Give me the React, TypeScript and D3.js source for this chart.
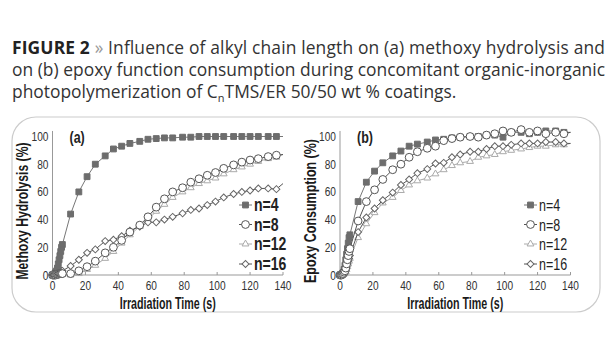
import React from "react"
import * as d3 from "d3"

// sampling times (s), shared by every series; lines run on to 140 s without a marker
const TIME = [0, 0.5, 1, 1.5, 2, 2.5, 3, 3.5, 4, 4.5, 5, 5.5, 6,
  11, 16, 21, 26, 32, 37, 42, 47, 53, 58, 63, 68, 73, 79, 84, 89, 94, 99, 104, 110, 115, 120, 125, 131, 136]
const LINE_END_TIME = 140
const SERIES_NAMES = ["n=4", "n=8", "n=12", "n=16"]
const X_TICKS = [0, 20, 40, 60, 80, 100, 120, 140]
const Y_TICKS = [0, 20, 40, 60, 80, 100]

// (a) methoxy hydrolysis (%)
const A_N4 = [0, 0, 0.5, 1, 2, 3, 5, 8, 11, 14, 17, 20, 22,
  44, 60, 71, 80, 86, 91, 93, 95, 96.5, 98, 98.5, 99, 99, 99.5, 99.5, 100, 100, 100, 100, 100, 100, 100, 100, 100, 100]
const A_N8 = [0, 0, 0, 0, 0, 0.5, 0.5, 0.5, 1, 1, 1, 1, 1,
  1, 3, 6, 10, 16, 20, 25, 31, 36, 42, 49, 55, 60, 63, 67, 69.5, 72, 74, 77, 79.5, 81.5, 83, 84, 85.5, 86.5]
const A_N12 = [0, 0, 0, 0, 0, 0, 0, 0, 0.5, 0.5, 0.5, 0.5, 0.5,
  0, 1, 4, 7, 12, 17, 23, 29, 35, 40, 46, 51, 56, 60, 63, 66, 68, 70, 73, 76, 78, 80, 82, 84, 85]
const A_N16 = [0, 0, 0, 0.5, 0.5, 1, 1, 1.5, 2, 2, 2.5, 3, 3,
  6.5, 11, 16, 18.5, 24.5, 25.5, 28, 32, 35, 38, 38, 40, 42, 44.5, 47, 48, 50.5, 53, 56, 58.5, 60, 61, 62.5, 62.5, 62]
const A_END = [100, 87, 87, 66]

// (b) epoxy consumption (%)
const B_N4 = [0, 0, 0.5, 1, 2, 4, 7, 11, 15, 19, 23, 27, 29,
  53, 67, 75, 81, 86, 89.5, 93, 94.5, 96, 97.5, 98, 99, 99.5, 100, 100, 101, 101, 99.5, 103, 103, 102, 103, 104, 104, 103]
const B_N8 = [0, 0, 0, 0.5, 1, 2, 3, 5, 8, 11, 14, 17, 19,
  39, 53, 61.5, 69, 76, 80, 85, 89, 91.5, 93, 97, 98.5, 99.5, 100, 99.5, 101, 102, 104, 103, 105, 103, 104, 102, 103, 102]
const B_N12 = [0, 0, 0, 0, 0.5, 1, 1.5, 2.5, 4, 6, 8, 10, 12,
  27, 37, 45, 52, 56, 61, 65, 68, 70, 73, 76, 79, 81, 82, 85, 86, 87, 89, 90, 91, 92, 93, 93, 94, 94]
const B_N16 = [0, 0, 0, 0.5, 1, 1.5, 2.5, 4, 6, 8, 10, 12, 14,
  31, 41.5, 48, 54, 59.5, 65, 69, 73.5, 76.5, 80.5, 81, 85, 87, 89, 89, 91, 93, 93, 94, 95, 95, 95, 96, 96, 95]
const B_END = [103, 103, 95, 95]

const STYLES = [
  { shape: "square", fill: "#6d6d6d", stroke: "#6d6d6d", line: "#777" },
  { shape: "circle", fill: "#fff", stroke: "#555", line: "#555" },
  { shape: "triangle", fill: "#fff", stroke: "#aaa", line: "#aaa" },
  { shape: "diamond", fill: "#fff", stroke: "#666", line: "#555" },
]
const DRAW_ORDER = [2, 3, 0, 1]

const AXIS_FONT = "'Liberation Sans', Arial, sans-serif"
const SQUEEZE = 0.78 // no condensed face installed, so narrow the glyphs by hand

function markerPath(shape: string) {
  if (shape === "square") return d3.symbol(d3.symbolSquare, 34)()
  if (shape === "circle") return d3.symbol(d3.symbolCircle, 48)()
  if (shape === "triangle") return d3.symbol(d3.symbolTriangle, 20)()
  return d3.symbol(d3.symbolSquare, 24)()
}

function Marker({ shape, x, y, fill, stroke }: any) {
  const rot = shape === "diamond" ? " rotate(45)" : ""
  return (
    <path d={markerPath(shape) || ""} transform={`translate(${x},${y})${rot}`}
      fill={fill} stroke={stroke} strokeWidth={1} />
  )
}

// condensed-looking text
function CText({ x, y, rotate = 0, children, ...rest }: any) {
  return (
    <text transform={`translate(${x},${y}) rotate(${rotate}) scale(${SQUEEZE},1)`}
      fontFamily={AXIS_FONT} fill="#222" {...rest}>{children}</text>
  )
}

// axis titles squeezed to the measured width
function TitleText({ x, y, rotate = 0, width, children }: any) {
  return (
    <text transform={`translate(${x},${y}) rotate(${rotate})`} textAnchor="middle" fontSize={17}
      fontWeight="bold" fontFamily={AXIS_FONT} fill="#1a1a1a"
      textLength={width} lengthAdjust="spacingAndGlyphs">{children}</text>
  )
}

interface PanelProps {
  label: string
  yTitle: string
  yTitleWidth: number
  series: number[][]
  ends: number[]
  x0: number
  x1: number
  yTitleX: number
  legendX: number
  legendBold: boolean
}

function Panel({ label, yTitle, yTitleWidth, series, ends, x0, x1, yTitleX, legendX, legendBold }: PanelProps) {
  const x = d3.scaleLinear().domain([0, 140]).range([x0, x1])
  const y = d3.scaleLinear().domain([0, 100]).range([275, 136.5])
  const line = d3.line<[number, number]>().x((d) => x(d[0])).y((d) => y(d[1]))
  const legendRows = [205, 224.5, 244, 264]

  return (
    <g>
      {/* axes */}
      <line x1={x0} x2={x0} y1={y(104)} y2={y(0)} stroke="#999" />
      <line x1={x0} x2={x1} y1={y(0)} y2={y(0)} stroke="#999" />
      {Y_TICKS.map((t) => (
        <CText key={t} x={x0 - 4} y={y(t) + 4.5} textAnchor="end" fontSize={13} fill="#333">{t}</CText>
      ))}
      {X_TICKS.map((t) => (
        <g key={t}>
          <line x1={x(t)} x2={x(t)} y1={y(0)} y2={y(0) - 3} stroke="#999" />
          <CText x={x(t)} y={y(0) + 15} textAnchor="middle" fontSize={13} fill="#333">{t}</CText>
        </g>
      ))}
      <TitleText x={(x0 + x1) / 2} y={309} width={96}>Irradiation Time (s)</TitleText>
      <TitleText x={yTitleX} y={211} rotate={-90} width={yTitleWidth}>{yTitle}</TitleText>
      <CText x={x0 + 17} y={143} fontSize={16} fontWeight="bold">{label}</CText>

      {/* series */}
      {DRAW_ORDER.map((i) => {
        const s = STYLES[i]
        const pts: [number, number][] = TIME.map((t, k) => [t, series[i][k]])
        return (
          <g key={i}>
            <path d={line([...pts, [LINE_END_TIME, ends[i]]]) || ""} fill="none" stroke={s.line} strokeWidth={1} />
            {pts.map((p, k) => (
              <Marker key={k} shape={s.shape} x={x(p[0])} y={y(p[1])} fill={s.fill} stroke={s.stroke} />
            ))}
          </g>
        )
      })}

      {/* legend */}
      {SERIES_NAMES.map((name, i) => {
        const s = STYLES[i]
        const ly = legendRows[i]
        return (
          <g key={name}>
            <line x1={legendX} x2={legendX + 13} y1={ly} y2={ly} stroke={s.line} />
            <Marker shape={s.shape} x={legendX + 6.5} y={ly} fill={s.fill} stroke={s.stroke} />
            <CText x={legendX + 15} y={ly + 6} fontSize={legendBold ? 18 : 16}
              fontWeight={legendBold ? "bold" : "normal"}>{name}</CText>
          </g>
        )
      })}
    </g>
  )
}

export default function App() {
  const titleFont = "'Open Sans', 'Noto Sans', sans-serif"
  return (
    <svg width={615} height={350} style={{ display: "block", position: "absolute", left: 0, top: 0, background: "#fff" }}>
      <rect x={0} y={0} width={615} height={350} fill="#fff" />
      <g fontFamily={titleFont} fontSize={17.4} fill="#333">
        <text x={12} y={54} textLength={593} lengthAdjust="spacing">
          <tspan fontWeight="bold" fill="#222">FIGURE 2</tspan>
          <tspan fill="#999"> » </tspan>
          <tspan>Influence of alkyl chain length on (a) methoxy hydrolysis and</tspan>
        </text>
        <text x={12} y={76} textLength={593} lengthAdjust="spacing">
          on (b) epoxy function consumption during concomitant organic-inorganic
        </text>
        <text x={12} y={98}>
          photopolymerization of C<tspan fontSize={11} dy={4}>n</tspan>
          <tspan dy={-4}>TMS/ER 50/50 wt % coatings.</tspan>
        </text>
      </g>

      <rect x={12} y={117} width={588} height={195} rx={24} fill="none" stroke="#ccc" strokeWidth={1.2} />

      <Panel label="(a)" yTitle="Methoxy Hydrolysis (%)" yTitleWidth={137} series={[A_N4, A_N8, A_N12, A_N16]}
        ends={A_END} x0={52.5} x1={283} yTitleX={28} legendX={239} legendBold={true} />
      <Panel label="(b)" yTitle="Epoxy Consumption (%)" yTitleWidth={144} series={[B_N4, B_N8, B_N12, B_N16]}
        ends={B_END} x0={340} x1={570.5} yTitleX={316} legendX={524} legendBold={false} />
    </svg>
  )
}
